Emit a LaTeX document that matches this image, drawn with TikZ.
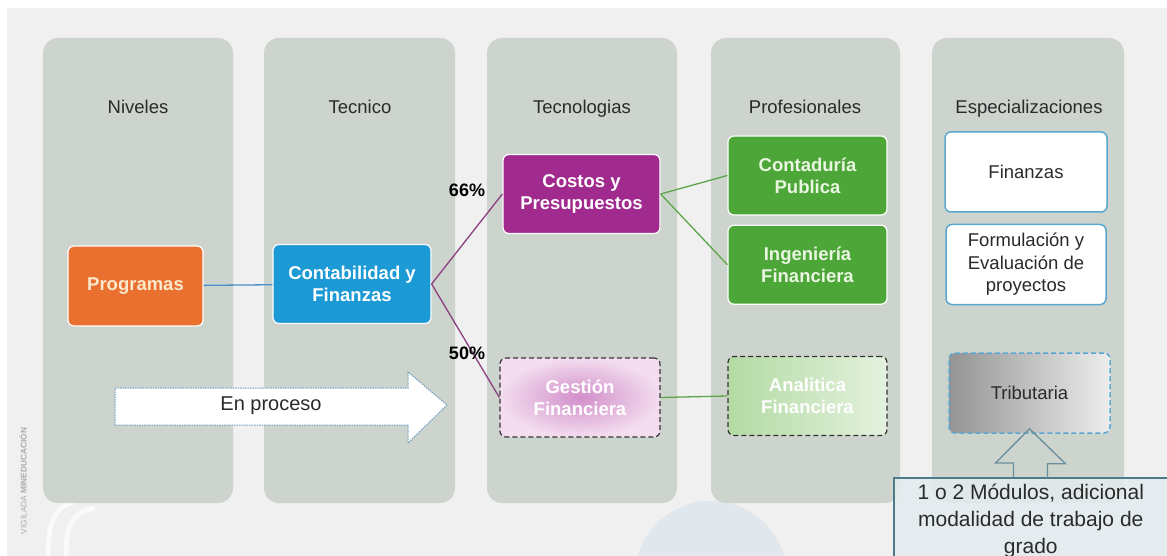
\documentclass[tikz,border=0pt]{standalone}
\usepackage{fontspec}
\setmainfont{Liberation Sans}
\usepackage{tikz}
\usetikzlibrary{positioning, shadings}

\definecolor{bggray}{HTML}{EFF0EF}
\definecolor{colgray}{HTML}{CDD3CD}
\definecolor{progorange}{HTML}{E9702F}
\definecolor{progtext}{HTML}{FCE8CC}
\definecolor{techblue}{HTML}{1B9AD6}
\definecolor{costpurple}{HTML}{A12A8F}
\definecolor{profgreen}{HTML}{4DA738}
\definecolor{proftext}{HTML}{EAF6E2}
\definecolor{gestin}{HTML}{D28ECA}
\definecolor{gestout}{HTML}{F3DDEF}
\definecolor{analeft}{HTML}{B3DAA3}
\definecolor{anaright}{HTML}{E4F2DE}
\definecolor{specblue}{HTML}{5AA8D2}
\definecolor{linkblue}{HTML}{4A8FC9}
\definecolor{linkpurple}{HTML}{8C3F80}
\definecolor{linkgreen}{HTML}{5EA64A}
\definecolor{procblue}{HTML}{6C9FBF}
\definecolor{modteal}{HTML}{4D7B8A}
\definecolor{modfill}{HTML}{E4ECEF}
\definecolor{circblue}{HTML}{E0E7ED}
\definecolor{textdark}{HTML}{2A2A2A}

\begin{document}
\begin{tikzpicture}[
    x = 1pt,
    y = -1pt,
    semithick,
    font = \fontsize{18.5}{22}\selectfont
]

% Setup the styles for the columns and the boxes
\tikzstyle{column}=[fill=colgray, rounded corners=15pt]
\tikzstyle{header}=[text=textdark, anchor=base]
\tikzstyle{course}=[rounded corners=6pt, minimum width=158pt, minimum height=79pt, align=center, font=\bfseries\fontsize{18.5}{22}\selectfont, text=white, draw=white, line width=1.2pt]
\tikzstyle{spec}=[course, fill=white, draw=specblue, text=textdark, font=\fontsize{18.5}{22.5}\selectfont, line width=1.5pt]
\tikzstyle{pending}=[course, draw=black!80, dash pattern=on 5pt off 3pt]
\tikzstyle{percent}=[font=\bfseries\fontsize{18}{20}\selectfont, text=black]
\tikzstyle{link}=[line width=1.3pt]

% Draw the background
\useasboundingbox (0,0) rectangle (1167,556);
\fill[white] (0,0) rectangle (1167,556);
\fill[bggray] (7,8) rectangle (1167,556);
\begin{scope}
    \clip (0,0) rectangle (1167,556);
    \fill[circblue] (711,577) circle (76);
    \draw[white, line width=5pt, opacity=0.7] (48,556) .. controls (48,520) and (55,505) .. (80,500);
    \draw[white, line width=5pt, opacity=0.7] (66,556) .. controls (66,525) and (72,512) .. (95,508);
\end{scope}
\node[rotate=90, font=\fontsize{8.3}{9}\selectfont, text=black!33] (mark) at (23,481) {VIGILADA \textbf{MINEDUCACIÓN}};

% Draw the columns
\foreach \xa/\xb in {43/233, 264/455, 487/677, 711/900, 932/1124}
    \fill[column] (\xa,38) rectangle (\xb,503);

% Draw the headers
\node[header] (hniv) at (138,114) {Niveles};
\node[header] (htec) at (360,114) {Tecnico};
\node[header] (htgl) at (582,114) {Tecnologias};
\node[header] (hpro) at (805,114) {Profesionales};
\node[header] (hesp) at (1029,114) {Especializaciones};

% Draw the boxes
\node[course, fill=progorange, text=progtext, minimum width=135pt, minimum height=80pt] (prog) at (135.5,286) {Programas};
\node[course, fill=techblue] (ctb) at (352,284) {Contabilidad y\\Finanzas};
\node[course, fill=costpurple, minimum width=157pt] (cost) at (581.5,194) {Costos y\\Presupuestos};
\node[course, fill=profgreen, text=proftext, minimum width=159pt] (cont) at (807.5,175.5) {Contaduría\\Publica};
\node[course, fill=profgreen, text=proftext, minimum width=159pt, below=9pt of cont] (ing) {Ingeniería\\Financiera};
\node[pending, inner color=gestin, outer color=gestout, minimum width=160pt] (gest) at (580,397.5) {Gestión\\Financiera};
\node[pending, left color=analeft, right color=anaright, minimum width=159pt] (ana) at (807.5,396) {Analitica\\Financiera};
\node[spec, minimum width=162pt, minimum height=80pt] (fin) at (1026,172) {Finanzas};
\node[spec, minimum width=160pt, minimum height=80pt, below=11pt of fin] (form) {Formulación y\\Evaluación de\\proyectos};
\node[spec, dash pattern=on 5pt off 3pt, left color=black!42, right color=black!7, minimum width=161pt, minimum height=80pt] (trib) at (1029.5,393) {Tributaria};

% Draw the connections
\draw[link, linkblue] (prog) -- (ctb);
\draw[link, linkpurple] (ctb.east) -- (cost.west);
\draw[link, linkpurple] (ctb.east) -- (gest.west);
\draw[link, linkgreen] (cost.east) -- (cont.west);
\draw[link, linkgreen] (cost.east) -- (ing.west);
\draw[link, linkgreen] (gest.east) -- (ana.west);
\node[percent] (p66) at (467,190) {66\%};
\node[percent] (p50) at (467,353) {50\%};

% Draw the progress arrow
\draw[procblue, fill=white, line width=1pt, dash pattern=on 1.5pt off 1pt] (115,388) -- (408,388) -- (408,372) -- (447,405) -- (408,443) -- (408,425) -- (115,425) -- cycle;
\node[text=textdark, font=\fontsize{20}{24}\selectfont] (proc) at (271,406) {En proceso};

% Draw the note and its arrow
\node[draw=modteal, fill=modfill, fill opacity=0.85, text opacity=1, line width=1.5pt, anchor=north west, minimum width=274pt, minimum height=86pt, inner ysep=3pt, align=center, text=textdark, font=\fontsize{21}{27}\selectfont] (mod) at (893,477) {1 o 2 Módulos, adicional\\modalidad de trabajo de\\grado};
\coordinate (tip) at ([yshift=5pt]trib.south);
\draw[modteal!85, line width=1.3pt] ([xshift=-16pt]tip |- mod.north) -- ++(0,-14) -- ++(-18,0) -- (tip) -- ++(36,35) -- ++(-18,0) -- ++(0,14);

\end{tikzpicture}
\end{document}
